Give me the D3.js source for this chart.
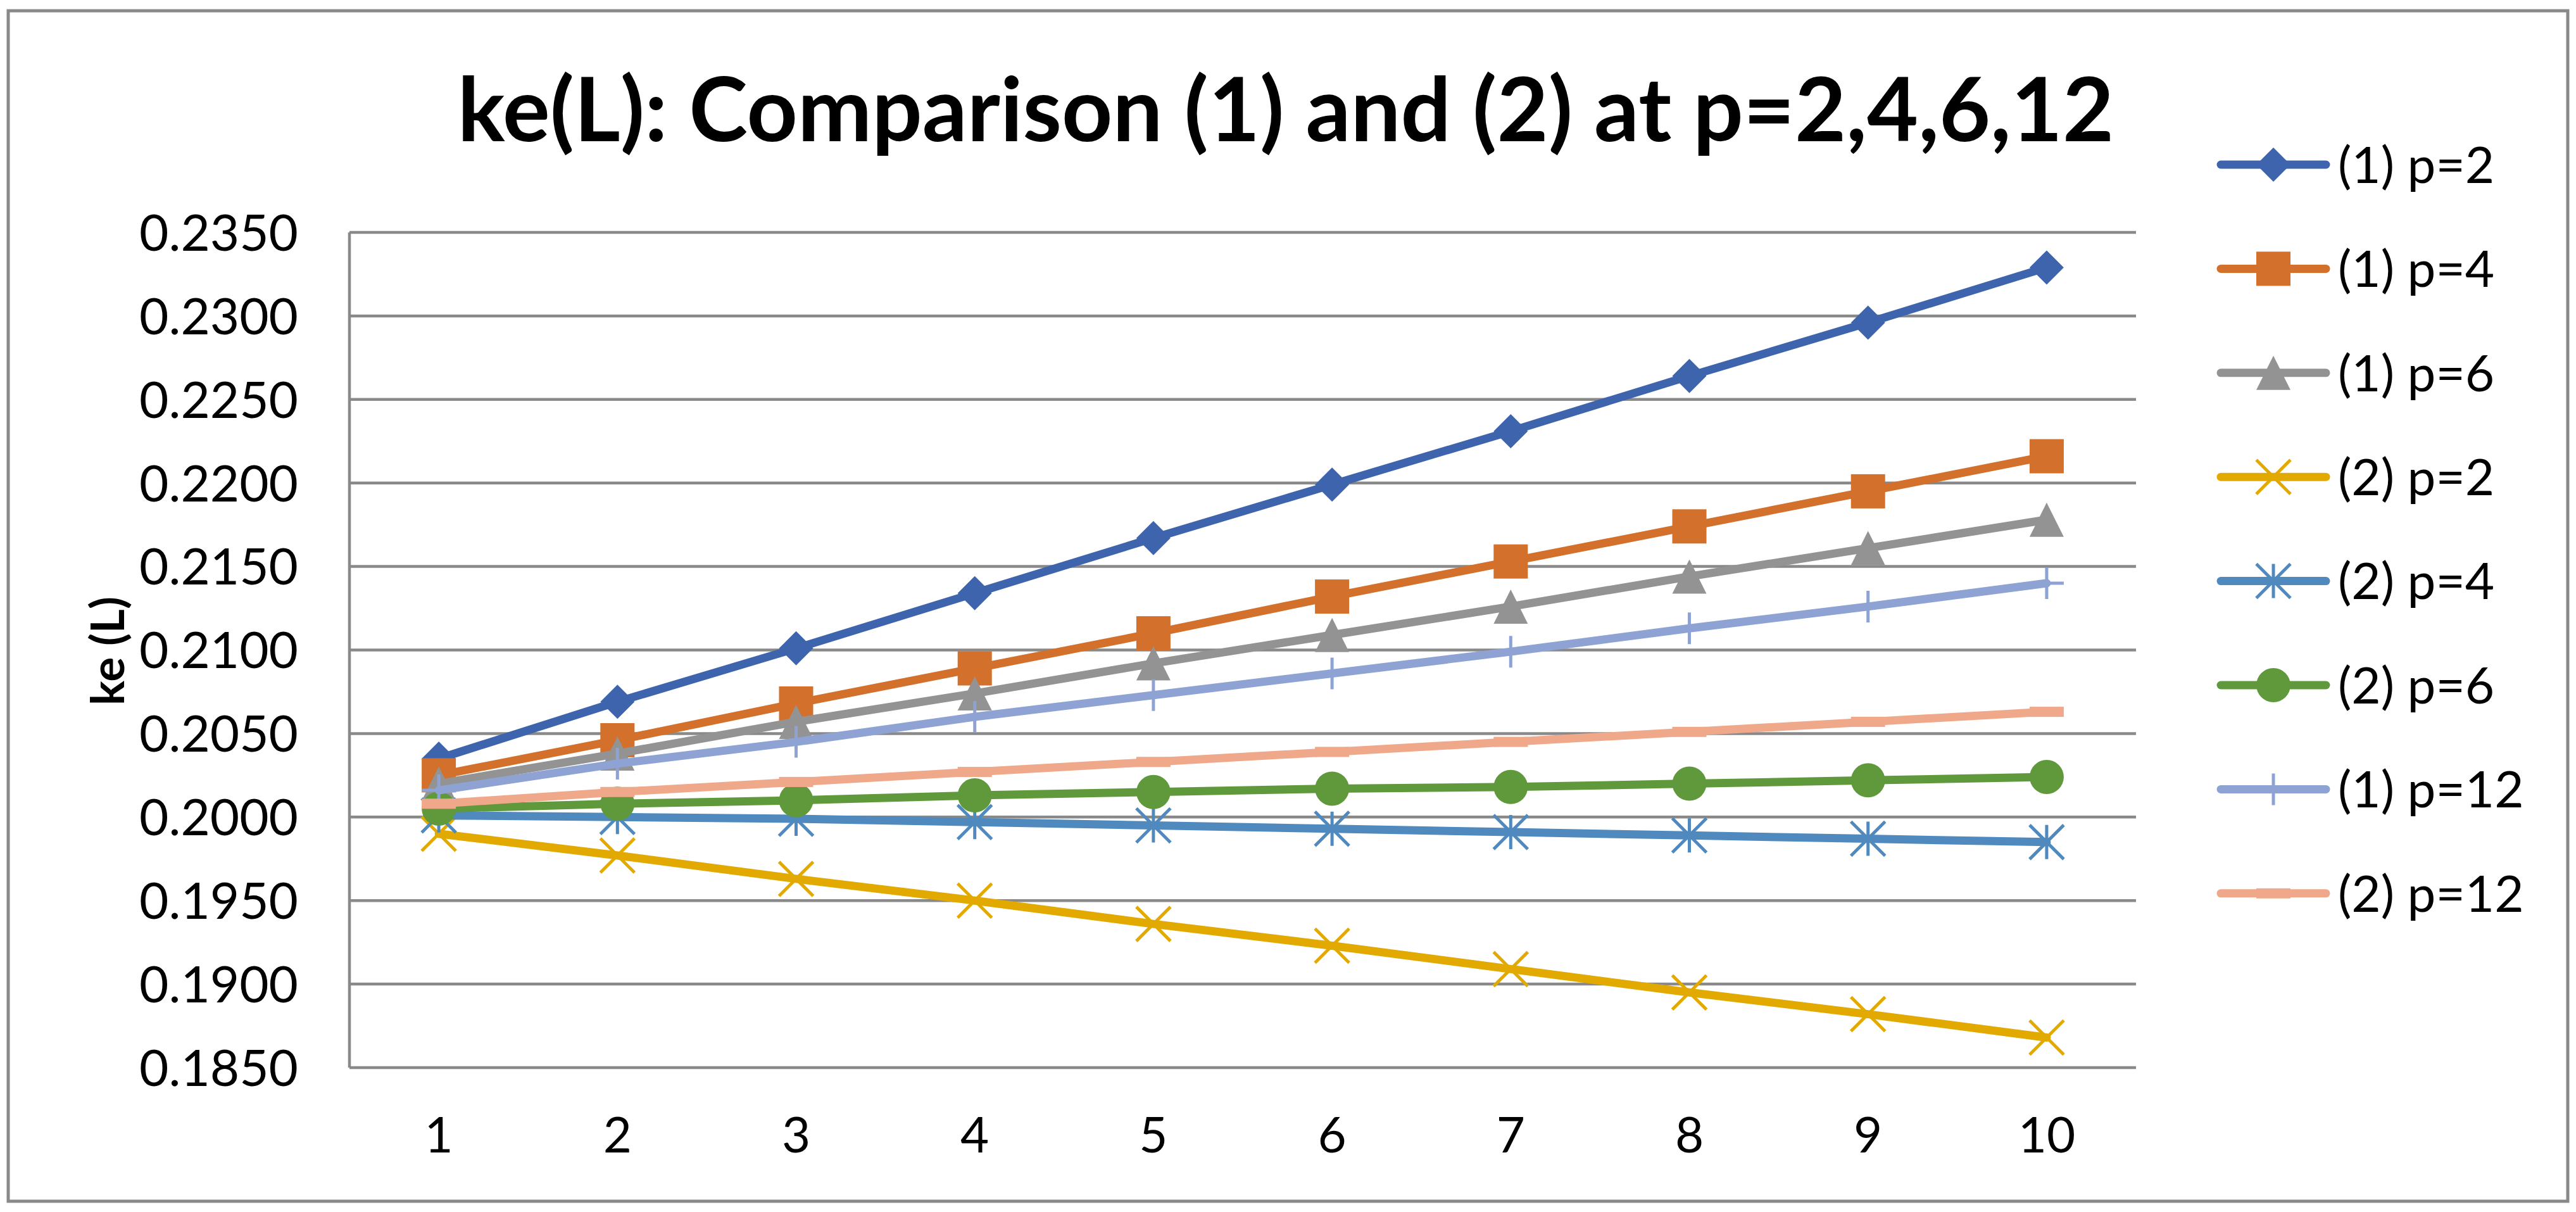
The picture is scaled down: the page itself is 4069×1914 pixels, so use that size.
<!DOCTYPE html>
<html>
<head>
<meta charset="utf-8">
<script src="https://cdn.jsdelivr.net/npm/d3@7"></script>
<style>
  html, body { margin: 0; padding: 0; background: #fff; }
  text { font-family: Lato, "Open Sans", sans-serif; fill: #000; }
</style>
</head>
<body>
<div id="chart"></div>
<script>
// categories (L) and tick labels
const categories = [1, 2, 3, 4, 5, 6, 7, 8, 9, 10];
const yTicks = [0.1850, 0.1900, 0.1950, 0.2000, 0.2050, 0.2100, 0.2150, 0.2200, 0.2250, 0.2300, 0.2350];

// series values
const s1p2  = [0.2035, 0.2069, 0.2101, 0.2134, 0.2167, 0.2199, 0.2231, 0.2264, 0.2296, 0.2329];
const s1p4  = [0.2025, 0.2046, 0.2068, 0.2089, 0.2110, 0.2132, 0.2153, 0.2174, 0.2195, 0.2216];
const s1p6  = [0.2020, 0.2038, 0.2057, 0.2074, 0.2092, 0.2109, 0.2126, 0.2144, 0.2161, 0.2178];
const s2p2  = [0.1990, 0.1977, 0.1963, 0.1950, 0.1936, 0.1923, 0.1909, 0.1895, 0.1882, 0.1868];
const s2p4  = [0.2001, 0.2000, 0.1999, 0.1997, 0.1995, 0.1993, 0.1991, 0.1989, 0.1987, 0.1985];
const s2p6  = [0.2005, 0.2008, 0.2010, 0.2013, 0.2015, 0.2017, 0.2018, 0.2020, 0.2022, 0.2024];
const s1p12 = [0.2016, 0.2032, 0.2045, 0.2060, 0.2073, 0.2086, 0.2099, 0.2113, 0.2126, 0.2140];
const s2p12 = [0.2008, 0.2015, 0.2021, 0.2027, 0.2033, 0.2039, 0.2045, 0.2051, 0.2057, 0.2063];

const seriesNames = ["(1) p=2", "(1) p=4", "(1) p=6", "(2) p=2", "(2) p=4", "(2) p=6", "(1) p=12", "(2) p=12"];
const seriesValues = [s1p2, s1p4, s1p6, s2p2, s2p4, s2p6, s1p12, s2p12];
const seriesColors = ["#3e64ad", "#d2702c", "#939393", "#e2aa00", "#4f89bd", "#5f993c", "#8ea3d3", "#f0a88a"];
const seriesMarkers = ["diamond", "square", "triangle", "x", "asterisk", "circle", "plus", "dash"];

const W = 4069, H = 1914;
const plot = { left: 552, right: 3374, top: 367, bottom: 1686 };
const gridColor = "#898989";

const svg = d3.select('#chart')
  .append('svg')
  .attr('width', W)
  .attr('height', H);

// outer frame
svg.append('rect')
  .attr('x', 13).attr('y', 17)
  .attr('width', 4043).attr('height', 1880)
  .attr('fill', '#fff')
  .attr('stroke', gridColor)
  .attr('stroke-width', 5);

const x = d3.scaleBand()
  .domain(categories)
  .range([plot.left, plot.right]);

const y = d3.scaleLinear()
  .domain([0.185, 0.235])
  .range([plot.bottom, plot.top]);

const cx = d => x(d) + x.bandwidth() / 2;

// gridlines
svg.append('g')
  .selectAll('line')
  .data(yTicks)
  .join('line')
  .attr('x1', plot.left)
  .attr('x2', plot.right)
  .attr('y1', d => y(d))
  .attr('y2', d => y(d))
  .attr('stroke', gridColor)
  .attr('stroke-width', 4.5);

// left axis line
svg.append('line')
  .attr('x1', plot.left).attr('x2', plot.left)
  .attr('y1', plot.top).attr('y2', plot.bottom)
  .attr('stroke', gridColor)
  .attr('stroke-width', 4.5);

// y tick labels
svg.append('g')
  .selectAll('text')
  .data(yTicks)
  .join('text')
  .attr('x', 471)
  .attr('y', d => y(d))
  .attr('dy', '0.36em')
  .attr('text-anchor', 'end')
  .style('font-size', '80px')
  .text(d => d3.format('.4f')(d));

// x tick labels
svg.append('g')
  .selectAll('text')
  .data(categories)
  .join('text')
  .attr('x', d => cx(d))
  .attr('y', 1820)
  .attr('text-anchor', 'middle')
  .style('font-size', '78px')
  .text(d => d);

// y axis title
svg.append('text')
  .attr('transform', 'translate(196,1028) rotate(-90)')
  .attr('text-anchor', 'middle')
  .style('font-size', '73px')
  .style('font-weight', 'bold')
  .text('ke (L)');

// chart title
svg.append('text')
  .attr('x', 2031)
  .attr('y', 223)
  .attr('text-anchor', 'middle')
  .style('font-size', '140px')
  .style('font-weight', 'bold')
  .text('ke(L): Comparison (1) and (2) at p=2,4,6,12');

// marker drawing
const S = 27;
function drawMarker(g, type, color) {
  if (type === 'diamond') {
    g.append('path').attr('d', `M0,${-S}L${S},0L0,${S}L${-S},0Z`).attr('fill', color);
  } else if (type === 'square') {
    g.append('rect').attr('x', -S).attr('y', -S).attr('width', 2 * S).attr('height', 2 * S).attr('fill', color);
  } else if (type === 'triangle') {
    g.append('path').attr('d', `M0,${-S}L${S},${S}L${-S},${S}Z`).attr('fill', color);
  } else if (type === 'circle') {
    g.append('circle').attr('r', S).attr('fill', color);
  } else if (type === 'dash') {
    g.append('rect').attr('x', -S).attr('y', -8).attr('width', 2 * S).attr('height', 16).attr('fill', color);
  } else {
    let d = '';
    if (type === 'x' || type === 'asterisk') d += `M${-S},${-S}L${S},${S}M${S},${-S}L${-S},${S}`;
    if (type === 'asterisk') d += `M0,${-S}L0,${S}`;
    if (type === 'plus') d = `M0,${-S + 2}L0,${S - 2}M${-S},0L${S},0`;
    g.append('path').attr('d', d).attr('fill', 'none').attr('stroke', color).attr('stroke-width', 5);
  }
}

const line = d3.line()
  .x((d, i) => cx(categories[i]))
  .y(d => y(d));

seriesValues.forEach((vals, si) => {
  const color = seriesColors[si];
  const g = svg.append('g').attr('class', 'series');
  g.append('path')
    .datum(vals)
    .attr('d', line)
    .attr('fill', 'none')
    .attr('stroke', color)
    .attr('stroke-width', 13)
    .attr('stroke-linejoin', 'round')
    .attr('stroke-linecap', 'round');
  g.selectAll('.mk')
    .data(vals)
    .join('g')
    .attr('class', 'mk')
    .attr('transform', (d, i) => `translate(${cx(categories[i])},${y(d)})`)
    .each(function () { drawMarker(d3.select(this), seriesMarkers[si], color); });
});

// legend
const legend = svg.append('g');
seriesNames.forEach((name, i) => {
  const ly = 260 + i * 164.4;
  const color = seriesColors[i];
  legend.append('line')
    .attr('x1', 3508).attr('x2', 3674)
    .attr('y1', ly).attr('y2', ly)
    .attr('stroke', color)
    .attr('stroke-width', 13)
    .attr('stroke-linecap', 'round');
  const mg = legend.append('g').attr('transform', `translate(3591,${ly})`);
  drawMarker(mg, seriesMarkers[i], color);
  legend.append('text')
    .attr('x', 3693)
    .attr('y', ly)
    .attr('dy', '0.36em')
    .style('font-size', '80px')
    .text(name);
});
</script>
</body>
</html>
